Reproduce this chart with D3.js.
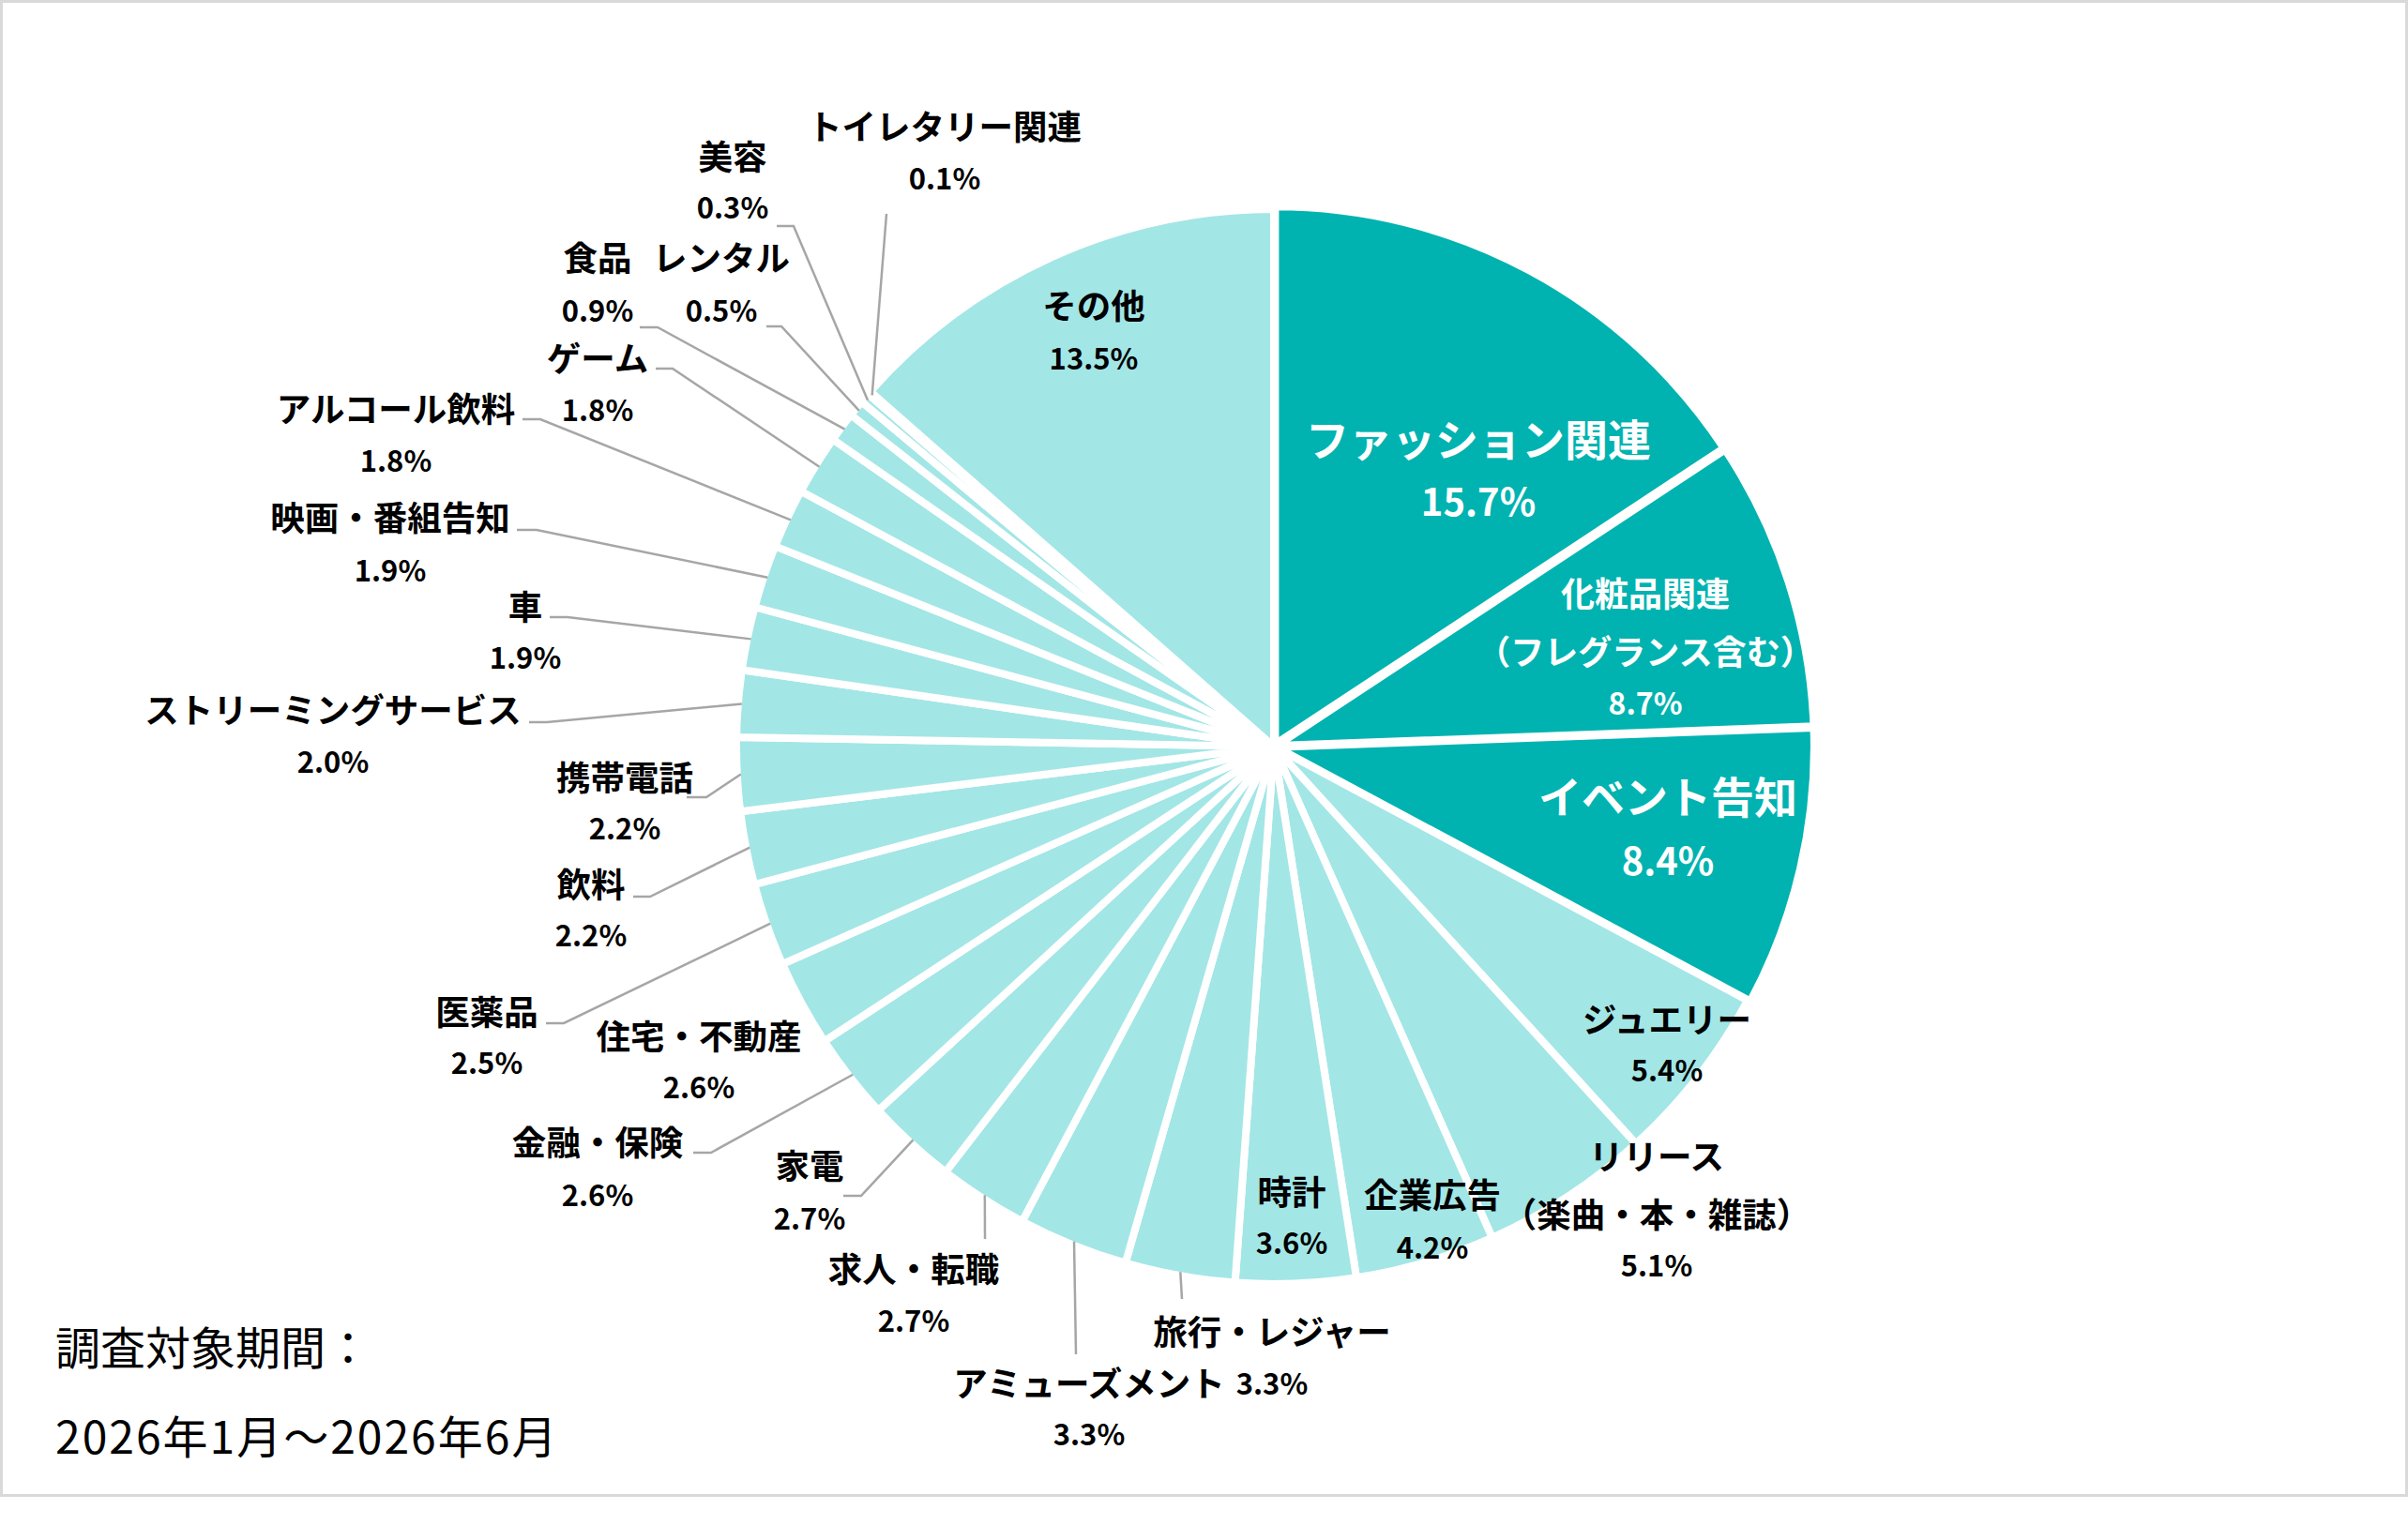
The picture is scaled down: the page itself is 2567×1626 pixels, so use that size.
<!DOCTYPE html>
<html lang="ja">
<head>
<meta charset="utf-8">
<script src="https://cdn.jsdelivr.net/npm/d3@7"></script>
<style>
  html, body { margin: 0; padding: 0; background: #fff; }
  svg { display: block; }
  text { font-family: "Noto Sans CJK JP", "Noto Sans", sans-serif; }
</style>
</head>
<body>
<script>
// ---------- data ----------
const categories = [
  "ファッション関連", "化粧品関連（フレグランス含む）", "イベント告知", "ジュエリー",
  "リリース（楽曲・本・雑誌）", "企業広告", "時計", "旅行・レジャー", "アミューズメント",
  "求人・転職", "家電", "金融・保険", "住宅・不動産", "医薬品", "飲料", "携帯電話",
  "ストリーミングサービス", "車", "映画・番組告知", "アルコール飲料", "ゲーム", "食品",
  "レンタル", "美容", "トイレタリー関連", "その他"
];
const shares = [
  15.7, 8.7, 8.4, 5.4,
  5.1, 4.2, 3.6, 3.3, 3.3,
  2.7, 2.7, 2.6, 2.6, 2.5, 2.2, 2.2,
  2.0, 1.9, 1.9, 1.8, 1.8, 0.9,
  0.5, 0.3, 0.1, 13.5
];
const highlighted = ["ファッション関連", "化粧品関連（フレグランス含む）", "イベント告知"];
const periodTitle = "調査対象期間：";
const periodRange = "2026年1月～2026年6月";

// ---------- layout (label placement, not data) ----------
const W = 2567, H = 1626;
const cx = 1358, cy = 796, R = 573;
const explode = 3;
const colorDark = "#00B3B0", colorLight = "#A3E6E6";

// name: centre of first name line, pct: centre of percentage line, elbow: leader points after pie edge
const labelLayout = {
  "ファッション関連": {name: [1576, 466], pct: [1576, 533], size: "big"},
  "化粧品関連（フレグランス含む）": {name: [1754, 631], line2: 693, pct: [1754, 748], size: "mid"},
  "イベント告知": {name: [1778, 847], pct: [1778, 916], size: "big"},
  "ジュエリー": {name: [1777, 1085], pct: [1777, 1139]},
  "リリース（楽曲・本・雑誌）": {name: [1766, 1231], line2: 1293, pct: [1766, 1347]},
  "企業広告": {name: [1527, 1272], pct: [1527, 1328]},
  "時計": {name: [1377, 1269], pct: [1377, 1323]},
  "旅行・レジャー": {name: [1356, 1418], pct: [1356, 1473], elbow: [[1260, 1385]]},
  "アミューズメント": {name: [1161, 1473], pct: [1161, 1527], elbow: [[1147, 1444]]},
  "求人・転職": {name: [974, 1351], pct: [974, 1406], elbow: [[1050, 1321]]},
  "家電": {name: [863, 1241], pct: [863, 1297], elbow: [[918, 1275], [899, 1275]]},
  "金融・保険": {name: [637, 1216], pct: [637, 1272], elbow: [[758, 1229], [739, 1229]]},
  "住宅・不動産": {name: [745, 1103], pct: [745, 1157]},
  "医薬品": {name: [519, 1077], pct: [519, 1131], elbow: [[601, 1091], [582, 1091]]},
  "飲料": {name: [630, 941], pct: [630, 995], elbow: [[693, 956], [675, 956]]},
  "携帯電話": {name: [666, 827], pct: [666, 881], elbow: [[753, 850], [732, 850]]},
  "ストリーミングサービス": {name: [355, 755], pct: [355, 810], elbow: [[583, 770], [564, 770]]},
  "車": {name: [560, 645], pct: [560, 699], elbow: [[605, 658], [586, 658]]},
  "映画・番組告知": {name: [416, 550], pct: [416, 606], elbow: [[572, 565], [551, 565]]},
  "アルコール飲料": {name: [422, 434], pct: [422, 489], elbow: [[576, 447], [557, 447]]},
  "ゲーム": {name: [637, 380], pct: [637, 435], elbow: [[717, 393], [699, 393]]},
  "食品": {name: [637, 273], pct: [637, 329], elbow: [[701, 349], [682, 349]]},
  "レンタル": {name: [769, 273], pct: [769, 329], elbow: [[833, 348], [817, 348]]},
  "美容": {name: [781, 165], pct: [781, 219], elbow: [[846, 241], [828, 241]]},
  "トイレタリー関連": {name: [1007, 133], pct: [1007, 188], elbow: [[945, 228]]},
  "その他": {name: [1166, 324], pct: [1166, 380]}
};
const fontSizes = {
  big: {name: 46, pct: 40},
  mid: {name: 36, pct: 32},
  small: {name: 36.5, pct: 31}
};

// ---------- drawing ----------
const rows = categories.map((c, i) => ({category: c, value: shares[i]}));

const svg = d3.select("body").append("svg")
  .attr("width", W).attr("height", H)
  .attr("viewBox", `0 0 ${W} ${H}`);

svg.append("rect")
  .attr("x", 1.5).attr("y", 1.5)
  .attr("width", W - 3).attr("height", 1593)
  .attr("fill", "#fff")
  .attr("stroke", "#D9D9D9").attr("stroke-width", 3);

const pie = d3.pie().value(d => d.value).sort(null)
  .startAngle(0).endAngle(2 * Math.PI);
const arcs = pie(rows);
const arc = d3.arc().innerRadius(0).outerRadius(R);

const color = d3.scaleOrdinal()
  .domain(categories)
  .range(categories.map(c => highlighted.includes(c) ? colorDark : colorLight));

const g = svg.append("g").attr("transform", `translate(${cx},${cy})`);

g.selectAll("path.slice")
  .data(arcs)
  .join("path")
  .attr("class", "slice")
  .attr("d", arc)
  .attr("fill", d => color(d.data.category))
  .attr("stroke", "#fff")
  .attr("stroke-width", 8)
  .attr("stroke-linejoin", "miter")
  .attr("transform", d => {
    if (!highlighted.includes(d.data.category)) return null;
    const a = (d.startAngle + d.endAngle) / 2;
    return `translate(${explode * Math.sin(a)},${-explode * Math.cos(a)})`;
  });

// leader lines
const edgeR = R - 4;
const leaders = svg.append("g");
arcs.forEach(d => {
  const L = labelLayout[d.data.category];
  if (!L || !L.elbow) return;
  const a = (d.startAngle + d.endAngle) / 2;
  const start = [cx + edgeR * Math.sin(a), cy - edgeR * Math.cos(a)];
  const pts = [start].concat(L.elbow);
  leaders.append("path")
    .attr("d", d3.line()(pts))
    .attr("fill", "none")
    .attr("stroke", "#A6A6A6")
    .attr("stroke-width", 2.5);
});

// labels
const labels = svg.append("g");
arcs.forEach(d => {
  const c = d.data.category;
  const L = labelLayout[c];
  const fs = fontSizes[L.size || "small"];
  const fill = highlighted.includes(c) ? "#fff" : "#000";
  const idx = c.indexOf("（");
  const line1 = idx > 0 ? c.slice(0, idx) : c;
  const line2 = idx > 0 ? c.slice(idx) : null;
  const t = (x, y, s, size) => labels.append("text")
    .attr("x", x).attr("y", y)
    .attr("text-anchor", "middle")
    .attr("dominant-baseline", "central")
    .attr("font-size", size)
    .attr("font-weight", 700)
    .attr("fill", fill)
    .text(s);
  t(L.name[0], L.name[1], line1, fs.name);
  if (line2) t(L.name[0], L.line2, line2, fs.name);
  t(L.pct[0], L.pct[1], d3.format(".1f")(d.data.value) + "%", fs.pct);
});

// period note
svg.append("text")
  .attr("x", 59).attr("y", 1434)
  .attr("dominant-baseline", "central")
  .attr("font-size", 48).attr("font-weight", 400).attr("fill", "#000")
  .text(periodTitle);
svg.append("text")
  .attr("x", 59).attr("y", 1529)
  .attr("dominant-baseline", "central")
  .attr("font-size", 48).attr("font-weight", 400).attr("fill", "#000")
  .attr("letter-spacing", 2)
  .text(periodRange);
</script>
</body>
</html>
